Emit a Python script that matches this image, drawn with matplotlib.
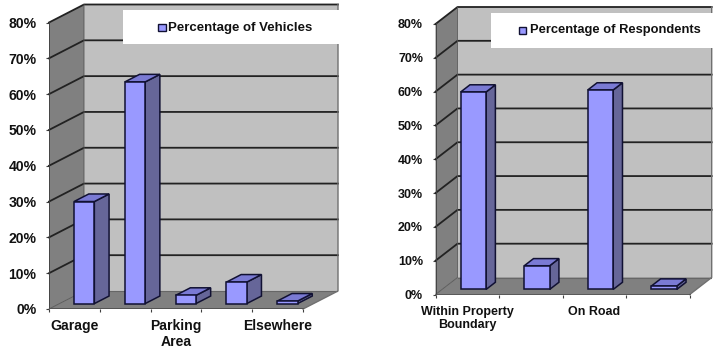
import matplotlib
matplotlib.use('Agg')
import matplotlib.pyplot as plt
from matplotlib.patches import Polygon, Rectangle

plt.rcParams['font.family'] = ['Liberation Sans', 'DejaVu Sans']
plt.rcParams['font.weight'] = 'bold'

W, H = 714, 350

y_ticks = [0, 10, 20, 30, 40, 50, 60, 70, 80]
y_labels = ['0%', '10%', '20%', '30%', '40%', '50%', '60%', '70%', '80%']

vehicle_values = [28.5, 61.9, 2.3, 6.0, 0.7]
vehicle_labels = ['Garage', '', 'Parking\nArea', '', 'Elsewhere']
vehicle_legend = 'Percentage of Vehicles'

respondent_values = [58.4, 7.0, 59.0, 1.0]
respondent_labels = ['Within Property\nBoundary', '', 'On Road', '']
respondent_legend = 'Percentage of Respondents'

wall = '#c0c0c0'
side_wall = '#808080'
floor = '#808080'
bar_front = '#9999ff'
bar_side = '#666699'
bar_top = '#7a7ad4'
dark = '#222222'


def chart(values, labels, legend_text, x0, x1, y0, y80, dx_px, dy_px, box, marker, text_x, fs, leg_fs, lab_pad, spacing):
    n = len(values)
    cat_w = (x1 - x0) / n
    unit = (y0 - y80) / 80
    dx = dx_px / cat_w  # depth in category units
    dy = dy_px / unit   # depth in percent units

    ax = plt.gcf().add_axes([x0 / W, 1 - y0 / H, (x1 + dx_px - x0) / W, (y0 - y80 + dy_px) / H])
    ax.set_xlim(0, n + dx)
    ax.set_ylim(0, 80 + dy)
    ax.patch.set_visible(False)
    for s in ax.spines.values():
        s.set_visible(False)

    def add(pts, fc, ec='none', lw=0, z=1):
        ax.add_patch(Polygon(pts, closed=True, fc=fc, ec=ec, lw=lw, zorder=z, clip_on=False))

    # walls and floor
    add([(dx, dy), (n + dx, dy), (n + dx, 80 + dy), (dx, 80 + dy)], wall)
    add([(0, 0), (dx, dy), (dx, 80 + dy), (0, 80)], side_wall)
    add([(0, 0), (n, 0), (n + dx, dy), (dx, dy)], floor)

    for t in y_ticks[1:]:
        ax.plot([0, dx, n + dx], [t, t + dy, t + dy], color=dark, lw=1.3, zorder=2, clip_on=False)
    ax.plot([0, dx, dx], [0, dy, 80 + dy], color='#555555', lw=0.6, zorder=2, clip_on=False)
    ax.plot([dx, n + dx], [dy, dy], color='#666666', lw=0.8, zorder=2)
    ax.plot([n, n + dx, n + dx], [0, dy, 80 + dy], color='#707070', lw=1.0, zorder=2, clip_on=False)
    ax.plot([0, 0], [0, 80], color='#404040', lw=1.3, zorder=3)
    ax.plot([0, n], [0, 0], color='#505050', lw=1.3, zorder=3)

    # bars
    bw = 0.4
    d0, d1 = 0.28, 0.7
    for i, v in enumerate(values):
        xa = i + 0.5 - bw / 2 + d0 * dx
        xb = xa + bw
        ya = 0.3 * dy
        ox, oy = (d1 - d0) * dx, (d1 - d0) * dy
        edge = dict(ec='#111133', lw=1.1, z=5)
        add([(xb, ya), (xb + ox, ya + oy), (xb + ox, ya + oy + v), (xb, ya + v)], bar_side, **edge)
        add([(xa, ya + v), (xb, ya + v), (xb + ox, ya + v + oy), (xa + ox, ya + v + oy)], bar_top, **edge)
        add([(xa, ya), (xb, ya), (xb, ya + v), (xa, ya + v)], bar_front, **edge)

    # ticks
    ax.set_yticks(y_ticks)
    ax.set_yticklabels(y_labels, fontsize=fs, color='#111111')
    ax.tick_params(axis='y', length=2, width=0.8, color='#404040', pad=lab_pad[0])
    ax.set_xticks(range(n + 1), minor=True)
    ax.tick_params(axis='x', which='minor', length=2.5, width=0.8, color='#404040')
    ax.set_xticks([i + 0.5 for i in range(n)])
    ax.set_xticklabels(labels, fontsize=fs, color='#111111', linespacing=spacing)
    ax.tick_params(axis='x', which='major', length=0, pad=lab_pad[1])

    # legend box, in pixels
    fig = plt.gcf()
    tr = fig.transFigure
    fig.add_artist(Rectangle((box[0] / W, 1 - box[3] / H), (box[2] - box[0]) / W, (box[3] - box[1]) / H,
                             fc='white', ec='none', transform=tr, zorder=6))
    fig.add_artist(Rectangle((marker[0] / W, 1 - marker[3] / H), (marker[2] - marker[0]) / W, (marker[3] - marker[1]) / H,
                             fc=bar_front, ec='#111133', lw=1.0, transform=tr, zorder=7))
    fig.text(text_x / W, 1 - (marker[1] + marker[3]) / 2 / H, legend_text, fontsize=leg_fs, va='center',
             ha='left', color='#111111', zorder=7)


fig = plt.figure(figsize=(W / 100, H / 100), dpi=100)

chart(vehicle_values, vehicle_labels, vehicle_legend, 49, 303, 309, 22.5, 35, 18,
      (123, 10, 339, 44), (158, 24, 166, 31), 168, 10.1, 9.5, (7, 7.5), 1.15)
chart(respondent_values, respondent_labels, respondent_legend, 435.5, 689.7, 294.5, 24, 22, 17,
      (491, 13, 714, 48), (519, 27, 526, 33.5), 529.5, 9.0, 9.3, (7, 8), 1.2)

fig.savefig('out.png', dpi=100)
